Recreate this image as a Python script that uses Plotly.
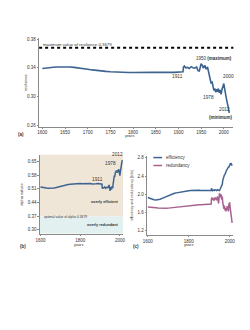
import plotly.graph_objects as go

W, H = 250, 330

years = [1600, 1610, 1620, 1630, 1640, 1650, 1660, 1670, 1680, 1690,
         1700, 1710, 1720, 1730, 1740, 1750, 1760, 1770, 1780, 1790,
         1800, 1810, 1820, 1830, 1840, 1850, 1860, 1870, 1880, 1890,
         1900, 1905, 1910, 1911, 1913, 1916, 1920, 1924, 1928, 1932,
         1936, 1940, 1943, 1946, 1948, 1950, 1952, 1955, 1958, 1961,
         1964, 1966, 1968, 1970, 1972, 1974, 1976, 1978, 1980, 1982,
         1984, 1986, 1988, 1990, 1992, 1994, 1996, 1998, 2000, 2002,
         2004, 2006, 2008, 2010, 2012]

resilience = [0.339, 0.340, 0.3405, 0.341, 0.341, 0.3412, 0.341, 0.3405, 0.340, 0.339,
              0.338, 0.337, 0.336, 0.3355, 0.335, 0.3345, 0.334, 0.3335, 0.3333, 0.3333,
              0.3335, 0.3338, 0.3335, 0.334, 0.3338, 0.3336, 0.334, 0.3335, 0.3338, 0.3336,
              0.334, 0.3338, 0.3345, 0.341, 0.3425, 0.340, 0.3405, 0.339, 0.3415, 0.340,
              0.3395, 0.341, 0.336, 0.3355, 0.340, 0.3455, 0.344, 0.3395, 0.3435, 0.338,
              0.341, 0.334, 0.328, 0.323, 0.318, 0.321, 0.312, 0.3085, 0.311, 0.306,
              0.310, 0.3065, 0.311, 0.305, 0.309, 0.303, 0.310, 0.3145, 0.318, 0.310,
              0.300, 0.296, 0.290, 0.283, 0.277]

alpha = [0.520, 0.517, 0.515, 0.514, 0.513, 0.513, 0.514, 0.515, 0.517, 0.520,
         0.523, 0.526, 0.529, 0.531, 0.532, 0.534, 0.535, 0.537, 0.538, 0.538,
         0.537, 0.536, 0.537, 0.535, 0.536, 0.537, 0.535, 0.537, 0.536, 0.537,
         0.535, 0.536, 0.534, 0.515, 0.511, 0.517, 0.516, 0.520, 0.513, 0.517,
         0.519, 0.514, 0.528, 0.530, 0.518, 0.501, 0.505, 0.519, 0.507, 0.524,
         0.514, 0.536, 0.553, 0.566, 0.578, 0.571, 0.591, 0.598, 0.593, 0.604,
         0.595, 0.602, 0.593, 0.606, 0.597, 0.611, 0.595, 0.586, 0.578, 0.595,
         0.616, 0.624, 0.635, 0.648, 0.657]

efficiency = [1.93, 1.91, 1.89, 1.88, 1.875, 1.88, 1.89, 1.91, 1.93, 1.95,
              1.97, 1.99, 2.00, 2.02, 2.03, 2.04, 2.05, 2.06, 2.07, 2.07,
              2.075, 2.08, 2.085, 2.08, 2.09, 2.09, 2.085, 2.09, 2.08, 2.085,
              2.08, 2.085, 2.08, 2.13, 2.10, 2.08, 2.09, 2.08, 2.10, 2.09,
              2.08, 2.10, 2.09, 2.10, 2.09, 2.08, 2.10, 2.13, 2.12, 2.18,
              2.22, 2.30, 2.35, 2.38, 2.40, 2.42, 2.43, 2.44, 2.47, 2.50,
              2.52, 2.55, 2.56, 2.58, 2.58, 2.60, 2.60, 2.62, 2.63, 2.66,
              2.68, 2.66, 2.67, 2.64, 2.63]

redundancy = [1.72, 1.72, 1.715, 1.71, 1.705, 1.70, 1.695, 1.69, 1.69, 1.69,
              1.695, 1.70, 1.71, 1.72, 1.73, 1.735, 1.74, 1.745, 1.75, 1.75,
              1.755, 1.76, 1.76, 1.765, 1.765, 1.77, 1.77, 1.775, 1.775, 1.78,
              1.78, 1.78, 1.785, 1.90, 1.93, 1.88, 1.90, 1.86, 1.93, 1.90,
              1.87, 1.95, 1.82, 1.80, 1.92, 2.02, 2.00, 1.93, 2.00, 1.88,
              1.95, 1.82, 1.75, 1.72, 1.68, 1.75, 1.66, 1.64, 1.70, 1.62,
              1.70, 1.65, 1.74, 1.66, 1.74, 1.62, 1.78, 1.80, 1.82, 1.72,
              1.62, 1.56, 1.50, 1.42, 1.37]

res_ticks = [0.26, 0.30, 0.34, 0.38]
alpha_ticks = [0.30, 0.37, 0.44, 0.51, 0.58, 0.65]
bits_ticks = [1.2, 1.6, 2.0, 2.4, 2.8]
years_ticks_a = [1600, 1650, 1700, 1750, 1800, 1850, 1900, 1950, 2000]
years_ticks_bc = [1600, 1800, 2000]

RES_MAX = 0.3679
ALPHA_OPT = 0.3679

BLUE = "#3d6491"
PINK = "#a8628f"
BEIGE = "#f0e6d8"
LIGHTBLUE = "#e3f0f0"
AXC = "#8a8a8a"
TXT = "#333333"
FONT = "Liberation Sans, Arial, sans-serif"


def px(x):
    return x / W


def py(y):
    return 1 - y / H


fig = go.Figure()
fig.add_trace(go.Scatter(x=years, y=resilience, mode="lines",
                         line=dict(color=BLUE, width=1.6), xaxis="x", yaxis="y",
                         showlegend=False))
fig.add_trace(go.Scatter(x=years, y=alpha, mode="lines",
                         line=dict(color=BLUE, width=1.5), xaxis="x2", yaxis="y2",
                         showlegend=False))
fig.add_trace(go.Scatter(x=years, y=efficiency, mode="lines",
                         line=dict(color=BLUE, width=1.5), xaxis="x3", yaxis="y3",
                         showlegend=False))
fig.add_trace(go.Scatter(x=years, y=redundancy, mode="lines",
                         line=dict(color=PINK, width=1.5), xaxis="x3", yaxis="y3",
                         showlegend=False))

axis_common = dict(showline=True, linecolor=AXC, linewidth=1, ticks="outside",
                   ticklen=1.5, tickwidth=1, tickcolor=AXC, showgrid=False,
                   zeroline=False, tickfont=dict(size=4.5, color=TXT, family=FONT))

fig.update_layout(
    width=W, height=H, margin=dict(l=0, r=0, t=0, b=0),
    paper_bgcolor="white", plot_bgcolor="rgba(0,0,0,0)",
    font=dict(family=FONT, color=TXT),
    xaxis=dict(domain=[px(36), px(235)], range=[1593, 2021], tickvals=years_ticks_a,
               anchor="y", **axis_common),
    yaxis=dict(domain=[py(125.7), py(36.7)], range=[0.258, 0.381], tickvals=res_ticks,
               tickformat=".2f", anchor="x", **axis_common),
    xaxis2=dict(domain=[px(36.7), px(122)], range=[1597, 2016], tickvals=years_ticks_bc,
                anchor="y2", **axis_common),
    yaxis2=dict(domain=[py(234), py(154)], range=[0.2795, 0.6855], tickvals=alpha_ticks,
                tickformat=".2f", anchor="x2", **axis_common),
    xaxis3=dict(domain=[px(146.7), px(235)], range=[1597, 2018], tickvals=years_ticks_bc,
                anchor="y3", **axis_common),
    yaxis3=dict(domain=[py(235), py(155)], range=[1.107, 2.85], tickvals=bits_ticks,
                tickformat=".1f", anchor="x3", **axis_common),
)

shapes = [
    dict(type="line", xref="x domain", x0=0, x1=1, yref="y", y0=RES_MAX, y1=RES_MAX,
         line=dict(color="black", width=2, dash="dot")),
    dict(type="rect", xref="x2 domain", x0=0, x1=1, yref="y2", y0=ALPHA_OPT, y1=0.6855,
         fillcolor=BEIGE, line=dict(width=0), layer="below"),
    dict(type="rect", xref="x2 domain", x0=0, x1=1, yref="y2", y0=0.2795, y1=ALPHA_OPT,
         fillcolor=LIGHTBLUE, line=dict(width=0), layer="below"),
    # legend samples in panel (c)
    dict(type="line", xref="paper", yref="paper", x0=px(153), x1=px(162),
         y0=py(157), y1=py(157), line=dict(color=BLUE, width=1.5)),
    dict(type="line", xref="paper", yref="paper", x0=px(153), x1=px(162),
         y0=py(165), y1=py(165), line=dict(color=PINK, width=1.5)),
]


def note(text, x, y, size=5, xanchor="center", yanchor="middle", xref="paper",
         yref="paper", textangle=0, xshift=0, yshift=0):
    return dict(text=text, x=x, y=y, xref=xref, yref=yref, showarrow=False,
                font=dict(size=size, color=TXT, family=FONT), xanchor=xanchor,
                yanchor=yanchor, textangle=textangle, xshift=xshift, yshift=yshift)


annotations = [
    # panel a
    note("maximum value of resilience 0.3679", px(38), py(42.5), size=4.3, xanchor="left"),
    note("resilience", px(21.5), py(81), size=4, textangle=-90),
    note("years", px(129), py(135.5), size=3.8),
    note("<b>(a)</b>", px(17), py(134), size=4.5),
    note("1911", 1911, resilience[years.index(1911)], xref="x", yref="y", size=4.8,
         xshift=-6, yshift=-9),
    note("1950 <b>(maximum)</b>", 1950, resilience[years.index(1950)], xref="x", yref="y",
         size=4.5, xanchor="left", xshift=-7, yshift=5),
    note("1978", 1978, resilience[years.index(1978)], xref="x", yref="y", size=4.8,
         xshift=-5, yshift=-7),
    note("2000", 2000, resilience[years.index(2000)], xref="x", yref="y", size=4.8,
         xshift=5, yshift=7),
    note("2012", 2012, resilience[years.index(2012)], xref="x", yref="y", size=4.8,
         xshift=-5, yshift=3),
    note("<b>(minimum)</b>", 2012, resilience[years.index(2012)], xref="x", yref="y",
         size=4.5, xshift=-8, yshift=-5),
    # panel b
    note("2012", 2012, alpha[years.index(2012)], xref="x2", yref="y2", size=4.8,
         xshift=-5, yshift=6),
    note("1978", 1978, alpha[years.index(1978)], xref="x2", yref="y2", size=4.8,
         xshift=-5, yshift=8),
    note("1911", 1911, alpha[years.index(1911)], xref="x2", yref="y2", size=4.8,
         xshift=-5, yshift=8),
    note("<b>overly efficient</b>", px(103), py(202), size=3.8),
    note("optimal value of alpha 0.3679", px(38.5), py(216.5), size=3.3, xanchor="left"),
    note("<b>overly redundant</b>", px(101), py(225.5), size=3.8),
    note("alpha values", px(18), py(195), size=4, textangle=-90),
    note("years", px(76), py(245), size=3.8),
    note("<b>(b)</b>", px(19), py(247), size=4.5),
    # panel c
    note("efficiency", px(164), py(157), size=4.5, xanchor="left"),
    note("redundancy", px(164), py(165), size=4.5, xanchor="left"),
    note("efficiency and redundancy (bits)", px(131.5), py(195), size=3.6, textangle=-90),
    note("years", px(189), py(245), size=3.8),
    note("<b>(c)</b>", px(135), py(247), size=4.5),
]

fig.update_layout(shapes=shapes, annotations=annotations)
fig.write_html("out.html")
